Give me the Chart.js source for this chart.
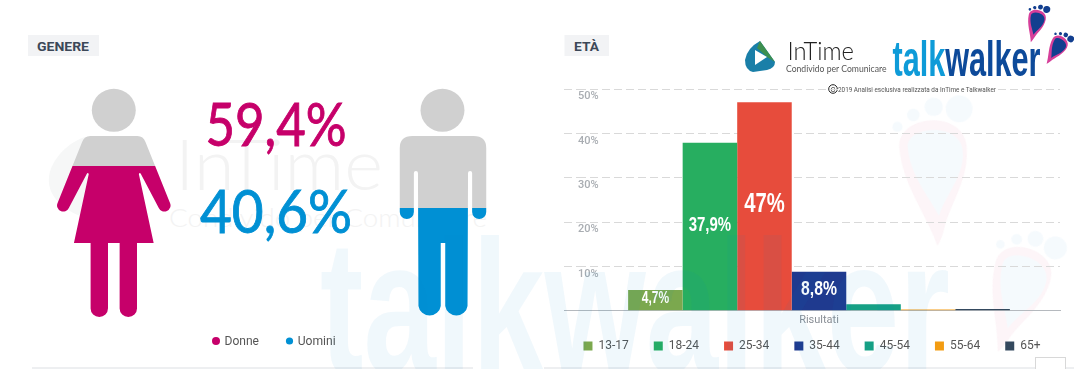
<!DOCTYPE html>
<html><head><meta charset="utf-8">
<script src="https://cdn.jsdelivr.net/npm/chart.js@4"></script>
<style>
html,body{margin:0;padding:0;background:#fff;overflow:hidden}
#wrap{position:relative;width:1074px;height:369px;overflow:hidden}
svg,canvas{position:absolute;left:0;top:0}
#over{pointer-events:none}
</style></head><body>
<div id="wrap">
<svg id="under" width="1074" height="369" viewBox="0 0 1074 369"></svg>
<canvas id="c" width="1074" height="369"></canvas>
<svg id="over" width="1074" height="369" viewBox="0 0 1074 369"></svg>
</div>
<script>
const ageGroups = ['13-17','18-24','25-34','35-44','45-54','55-64','65+'];
const ageValues = [4.7,37.9,47,8.8,1.5,0.3,0.4];
const ageLabels = ['4,7%','37,9%','47%','8,8%','','',''];
const ageColors = ['#7ba84e','#27ae60','#e74c3c','#1f3a8f','#16a085','#f39c12','#34495e'];
const yTicks = [0,10,20,30,40,50];
const xCategory = ['Risultati'];
const genderNames = ['Donne','Uomini'];
const genderLabels = ['59,4%','40,6%'];
const genderColors = ['#c6006a','#0090d4'];

const woman = 'M-23,136 L23,136 Q29,136 31,142 L55,203 A6,6 0 1 1 44,208 L26.5,174 Q25.5,172 24.5,174 L39,243 L22.7,243 L22.7,308.5 A8.5,8.5 0 0 1 5.7,308.5 L5.7,243 L-5.7,243 L-5.7,308.5 A8.5,8.5 0 0 1 -22.7,308.5 L-22.7,243 L-39,243 L-24.5,174 Q-25.5,172 -26.5,174 L-44,208 A6,6 0 1 1 -55,203 L-31,142 Q-29,136 -23,136 Z';
const man = 'M-30,136 L30,136 Q42.3,136 42.3,148 L42.3,212 A6.9,6.9 0 0 1 28.5,212 L28.5,173 A2,2 0 0 0 24.5,173 L24,306 A11,11 0 0 1 2.2,306 L2.2,243 L-2.2,243 L-2.2,306 A11,11 0 0 1 -24,306 L-24.5,173 A2,2 0 0 0 -28.5,173 L-28.5,212 A6.9,6.9 0 0 1 -42.3,212 L-42.3,148 Q-42.3,136 -30,136 Z';

function foot(x,y,s,rot,c1,c2){
  return `<g transform="translate(${x},${y}) rotate(${rot}) scale(${s})">
  <path d="M-8,-6 C-8,-14 8,-14 8,-5 C8,3 3,8 1,14 C0,17 -1,18 -1,18 C-3,10 -8,3 -8,-6Z" fill="${c1}"/>
  <path d="M-6,-6 C-6,-11 7,-11 7,-4 C7,2 2,6 0,11 C-2,6 -6,1 -6,-6Z" fill="${c2}"/>
  <circle cx="7" cy="-14" r="3.2" fill="${c2}"/><circle cx="1" cy="-15" r="2.2" fill="${c2}"/>
  <circle cx="-4" cy="-13.5" r="1.5" fill="${c2}"/><circle cx="-8" cy="-11" r="1.2" fill="${c2}"/></g>`;
}

document.getElementById('under').innerHTML = `
<defs>
<clipPath id="wTopL"><rect x="-70" y="80" width="140" height="86"/></clipPath>
<clipPath id="wBotL"><rect x="-70" y="166" width="140" height="170"/></clipPath>
<clipPath id="mTop"><rect x="-60" y="80" width="120" height="128"/></clipPath>
<clipPath id="mBot"><rect x="-60" y="208" width="120" height="130"/></clipPath>
</defs>
<g font-family="Lato" fill="#f3f3f3">
<path d="M62,205 C32,180 60,145 85,137 L128,190 C118,218 88,228 62,205Z" fill="#f6f7f7"/>
<text x="175" y="190" font-size="71" font-weight="300" textLength="208" lengthAdjust="spacingAndGlyphs">InTime</text>
<text x="169" y="227" font-size="25" font-weight="300" textLength="318" lengthAdjust="spacingAndGlyphs">Condivido per Comunicare</text>
</g>
<g opacity=".28">${foot(935,170,4.2,-5,'#f7d9e4','#dcedf8')}${foot(1018,290,3.6,15,'#f7d9e4','#dcedf8')}</g>

<g font-family="Roboto" font-size="13" font-weight="700" fill="#3c4858">
<rect x="28" y="35" width="71" height="21" fill="#f2f3f5"/>
<text x="37" y="51" textLength="52" lengthAdjust="spacingAndGlyphs">GENERE</text>
<rect x="564.5" y="35" width="44.5" height="21" fill="#f2f3f5"/>
<text x="574" y="51" textLength="25" lengthAdjust="spacingAndGlyphs">ETÀ</text>
</g>

<g transform="translate(113.8,0) scale(1.022,1)">
<circle cx="0" cy="110.3" r="21.5" fill="#d0d0d0"/>
<path d="${woman}" fill="#d0d0d0" clip-path="url(#wTopL)"/>
<path d="${woman}" fill="${genderColors[0]}" clip-path="url(#wBotL)"/>
</g>
<g transform="translate(443,0) scale(1.022,1)">
<circle cx="-.5" cy="110.3" r="21.5" fill="#d0d0d0"/>
<path d="${man}" fill="#d0d0d0" clip-path="url(#mTop)"/>
<path d="${man}" fill="${genderColors[1]}" clip-path="url(#mBot)"/>
</g>

<g font-family="Lato" font-size="60" text-anchor="middle" stroke-width=".9">
<text x="276" y="146" textLength="141" lengthAdjust="spacingAndGlyphs" fill="${genderColors[0]}" stroke="${genderColors[0]}">${genderLabels[0]}</text>
<text x="276" y="233" textLength="152" lengthAdjust="spacingAndGlyphs" fill="${genderColors[1]}" stroke="${genderColors[1]}">${genderLabels[1]}</text>
</g>
<g font-family="Roboto" font-size="12" fill="#555">
<circle cx="216" cy="341" r="4" fill="${genderColors[0]}"/><text x="224.5" y="345" textLength="34.5" lengthAdjust="spacingAndGlyphs">${genderNames[0]}</text>
<circle cx="289.5" cy="341" r="3.6" fill="${genderColors[1]}"/><text x="297.7" y="345" textLength="38" lengthAdjust="spacingAndGlyphs">${genderNames[1]}</text>
</g>
<line x1="32" y1="368" x2="473" y2="368" stroke="#dcdfe3"/>
<line x1="544" y1="368" x2="1074" y2="368" stroke="#dcdfe3"/>
<rect x="1035.5" y="357.5" width="30" height="14" fill="#fff" stroke="#d8d8d8"/>

<path d="M760,41 L775,62 Q775,68 767,70 L753,72 Q745,70 745,60 Q747,48 760,41Z" fill="#1a7fa8"/>
<path d="M760,41 L775,62 L767,57 L757,48Z" fill="#3d8f4f"/>
<path d="M755,50 L767,57 L755,65Z" fill="#fff"/>
<text x="787.5" y="60" font-family="Lato" font-size="26" font-weight="300" fill="#222" textLength="66.5" lengthAdjust="spacingAndGlyphs">InTime</text>
<text x="786" y="72" font-family="Lato" font-size="9.5" fill="#555" textLength="100.5" lengthAdjust="spacingAndGlyphs">Condivido per Comunicare</text>
<text x="892.5" y="76" font-family="Liberation Sans" font-weight="700" font-size="50" textLength="148" lengthAdjust="spacingAndGlyphs"><tspan fill="#0e9bd8">talk</tspan><tspan fill="#0d4a9a">walker</tspan></text>
${foot(1036,23,1.1,12,'#d63f9a','#123f8f')}
${foot(1057,48,1.05,30,'#d63f9a','#123f8f')}
<circle cx="833" cy="89" r="4.3" fill="#fff" stroke="#222"/>
<text x="833" y="91.5" font-size="7" text-anchor="middle" font-family="Roboto" fill="#222">C</text>
`;

document.getElementById('over').innerHTML = `
<rect x="838" y="85" width="158" height="8" fill="#fff" opacity=".75"/>
<text x="838" y="92" font-family="Roboto" font-size="7" fill="#555" textLength="158" lengthAdjust="spacingAndGlyphs">2019 Analisi esclusiva realizzata da InTime e Talkwalker</text>
<text x="320" y="372" font-family="Liberation Sans" font-weight="700" font-size="190" fill="#0090d4" fill-opacity=".06" textLength="630" lengthAdjust="spacingAndGlyphs">talkwalker</text>`;

const barText = {
  id:'barText',
  afterDatasetsDraw(chart){
    const ctx = chart.ctx;
    ctx.textAlign='center'; ctx.textBaseline='middle'; ctx.fillStyle='#fff';
    const sizes = [16,20,27,21];
    chart.data.datasets.forEach((d,i)=>{
      const txt = ageLabels[i]; if(!txt) return;
      const el = chart.getDatasetMeta(i).data[0];
      ctx.save();
      ctx.translate(el.x,(el.y+el.base)/2-1.5);
      ctx.scale(.75,1);
      ctx.font = '700 '+sizes[i]+'px "Liberation Sans"';
      ctx.fillText(txt,0,0);
      ctx.restore();
    });
  }
};

const legendPlace = {
  id:'legendPlace',
  beforeLayout(chart){
    const lg = chart.legend;
    if(lg && !lg._patched){
      const f = lg.fit;
      lg.fit = function(){ this.maxWidth = 560; f.call(this); this.height = 20; };
      lg._patched = true;
    }
  },
  afterLayout(chart){
    const lg = chart.legend;
    if(lg){ lg.top = 315; lg.bottom = 369; lg.left = 550; lg.right = 1074; }
  }
};

new Chart(document.getElementById('c'),{
  type:'bar',
  data:{labels:xCategory,datasets:ageGroups.map((g,i)=>({label:g,data:[ageValues[i]],backgroundColor:ageColors[i],borderWidth:0}))},
  plugins:[barText,legendPlace],
  options:{
    responsive:false,animation:false,
    layout:{padding:{left:564,top:89,right:14,bottom:19}},
    datasets:{bar:{barPercentage:1,categoryPercentage:.792}},
    plugins:{tooltip:{enabled:false},
      legend:{position:'bottom',labels:{boxWidth:9,boxHeight:9,padding:25,color:'#555',font:{family:'Roboto',size:12}}}},
    scales:{
      x:{grid:{display:false,drawTicks:false},border:{display:true,color:'#b5b9be',width:1},
         ticks:{color:'#8a8f96',font:{family:'Roboto',size:11},padding:3}},
      y:{min:0,max:50,afterBuildTicks(s){s.ticks=yTicks.map(v=>({value:v}));},
         border:{display:false,dash:[8,4]},
         grid:{color:c=>c.tick.value===0?'transparent':'#d9d9d9',tickLength:14,
           tickColor:c=>c.tick.value===0?'#b5b9be':'#d9d9d9',tickBorderDash:c=>c.tick.value===0?[]:[8,4]},
         ticks:{mirror:true,padding:0,color:'#a9adb2',font:{family:'Roboto',size:11,weight:'500',lineHeight:1.35},
           callback:v=>v===0?'':['',v+'%']}}
    }
  }
});
</script>
</body></html>
